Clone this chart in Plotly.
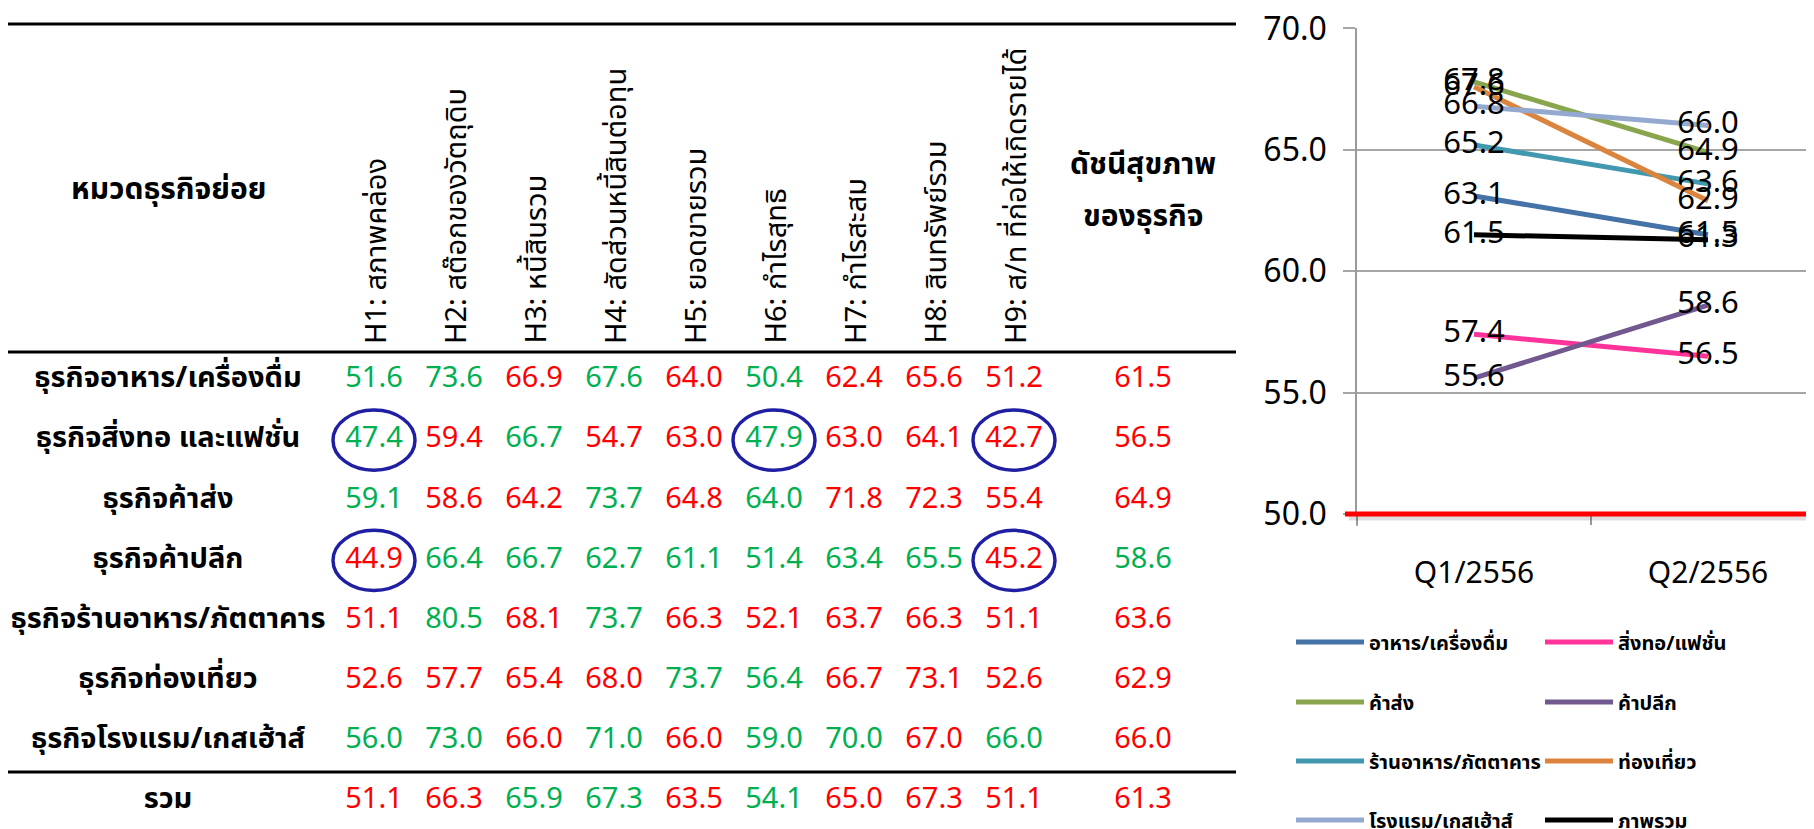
import plotly.graph_objects as go

# ---------------- data ----------------
sectors = ["ธุรกิจอาหาร/เครื่องดื่ม", "ธุรกิจสิ่งทอ และแฟชั่น", "ธุรกิจค้าส่ง", "ธุรกิจค้าปลีก",
           "ธุรกิจร้านอาหาร/ภัตตาคาร", "ธุรกิจท่องเที่ยว", "ธุรกิจโรงแรม/เกสเฮ้าส์", "รวม"]
indicators = ["H1: สภาพคล่อง", "H2: สต๊อกของวัตถุดิบ", "H3: หนี้สินรวม", "H4: สัดส่วนหนี้สินต่อทุน",
              "H5: ยอดขายรวม", "H6: กำไรสุทธิ", "H7: กำไรสะสม", "H8: สินทรัพย์รวม",
              "H9: ส/ท ที่ก่อให้เกิดรายได้"]

h1 = [51.6, 47.4, 59.1, 44.9, 51.1, 52.6, 56.0, 51.1]
h2 = [73.6, 59.4, 58.6, 66.4, 80.5, 57.7, 73.0, 66.3]
h3 = [66.9, 66.7, 64.2, 66.7, 68.1, 65.4, 66.0, 65.9]
h4 = [67.6, 54.7, 73.7, 62.7, 73.7, 68.0, 71.0, 67.3]
h5 = [64.0, 63.0, 64.8, 61.1, 66.3, 73.7, 66.0, 63.5]
h6 = [50.4, 47.9, 64.0, 51.4, 52.1, 56.4, 59.0, 54.1]
h7 = [62.4, 63.0, 71.8, 63.4, 63.7, 66.7, 70.0, 65.0]
h8 = [65.6, 64.1, 72.3, 65.5, 66.3, 73.1, 67.0, 67.3]
h9 = [51.2, 42.7, 55.4, 45.2, 51.1, 52.6, 66.0, 51.1]
health_index = [61.5, 56.5, 64.9, 58.6, 63.6, 62.9, 66.0, 61.3]

# 1 = better than last quarter (green), 0 = worse (red)
h1_up = [1, 1, 1, 0, 0, 0, 1, 0]
h2_up = [1, 0, 0, 1, 1, 0, 1, 0]
h3_up = [0, 1, 0, 1, 0, 0, 0, 1]
h4_up = [1, 0, 1, 1, 1, 0, 1, 1]
h5_up = [0, 0, 0, 1, 0, 1, 0, 0]
h6_up = [1, 1, 1, 1, 0, 1, 1, 1]
h7_up = [0, 0, 0, 1, 0, 0, 1, 0]
h8_up = [0, 0, 0, 1, 0, 0, 0, 0]
h9_up = [0, 0, 0, 0, 0, 0, 1, 0]
index_up = [0, 0, 0, 1, 0, 0, 0, 0]

quarters = ["Q1/2556", "Q2/2556"]
series_names = ["อาหาร/เครื่องดื่ม", "สิ่งทอ/แฟชั่น", "ค้าส่ง", "ค้าปลีก",
                "ร้านอาหาร/ภัตตาคาร", "ท่องเที่ยว", "โรงแรม/เกสเฮ้าส์", "ภาพรวม"]
q1_scores = [63.1, 57.4, 67.8, 55.6, 65.2, 67.6, 66.8, 61.5]
q2_scores = health_index

threshold = 50.0      # health-index critical line
ring_below = 50.0     # table scores under this are ringed

# ---------------- layout constants ----------------
OFF = 8                       # page body margin: the figure starts 8px in from the window corner
W, H = 1814 - OFF, 829 - OFF
FONT = "Noto Sans, Noto Sans Thai, sans-serif"
GREEN, RED, RING = "#00B050", "#FF0000", "#1F1FA3"
series_colors = ["#4572A7", "#FF3399", "#89A54E", "#71588F",
                 "#4198AF", "#DB843D", "#93A9CF", "#000000"]

# positions below are window pixels
COL_X = [168, 374, 454, 534, 614, 694, 774, 854, 934, 1014, 1143]   # table column centres
ROW0, ROW_H = 380, 60.14                                             # first row centre, row pitch

score_cols = [h1, h2, h3, h4, h5, h6, h7, h8, h9, health_index]
up_cols = [h1_up, h2_up, h3_up, h4_up, h5_up, h6_up, h7_up, h8_up, h9_up, index_up]


def row_pos(py):
    # window pixel y -> category position on the table axis
    return (py - ROW0) / ROW_H


def px_x(px):
    return (px - OFF) / W


def px_y(py):
    return 1 - (py - OFF) / H


Y_RANGE = [50, 70.02]
Y_DOM = [px_y(514), px_y(28)]


def y_to_paper(v):
    return Y_DOM[0] + (v - Y_RANGE[0]) / (Y_RANGE[1] - Y_RANGE[0]) * (Y_DOM[1] - Y_DOM[0])


fig = go.Figure()

# ---- table (x2 / y2) ----
fig.add_trace(go.Scatter(
    x=[COL_X[0]] * len(sectors), y=sectors, mode="text", text=sectors,
    textfont=dict(family=FONT, size=29, color="black", weight="bold"),
    xaxis="x2", yaxis="y2", showlegend=False, hoverinfo="skip"))

for j, (vals, ups) in enumerate(zip(score_cols, up_cols)):
    fig.add_trace(go.Scatter(
        x=[COL_X[j + 1]] * len(vals), y=sectors, mode="text",
        text=[f"{v:.1f}" for v in vals],
        textfont=dict(family=FONT, size=29, color=[GREEN if u else RED for u in ups]),
        xaxis="x2", yaxis="y2", showlegend=False, hoverinfo="skip"))

shapes = []
# rings around sub-50 scores
for j, vals in enumerate(score_cols[:9]):
    for i, v in enumerate(vals):
        if v < ring_below:
            cx = COL_X[j + 1]
            shapes.append(dict(type="circle", xref="x2", yref="y2",
                               x0=cx - 41, x1=cx + 41, y0=i - 0.5, y1=i + 0.5,
                               line=dict(color=RING, width=3.5)))

# table rules
for py in [24, 352, 772]:
    shapes.append(dict(type="line", xref="x2", yref="y2", x0=8, x1=1236,
                       y0=row_pos(py), y1=row_pos(py), line=dict(color="black", width=3)))

annotations = []
for j, lab in enumerate(indicators):
    annotations.append(dict(x=COL_X[j + 1], y=row_pos(346), xref="x2", yref="y2",
                            text=lab, textangle=-90, showarrow=False,
                            xanchor="center", yanchor="bottom",
                            font=dict(family=FONT, size=29, color="black")))
annotations.append(dict(x=COL_X[0], y=row_pos(187), xref="x2", yref="y2", text="หมวดธุรกิจย่อย",
                        showarrow=False, font=dict(family=FONT, size=30, color="black", weight="bold")))
annotations.append(dict(x=COL_X[-1], y=row_pos(162), xref="x2", yref="y2", text="ดัชนีสุขภาพ",
                        showarrow=False, font=dict(family=FONT, size=30, color="black", weight="bold")))
annotations.append(dict(x=COL_X[-1], y=row_pos(214), xref="x2", yref="y2", text="ของธุรกิจ",
                        showarrow=False, font=dict(family=FONT, size=30, color="black", weight="bold")))

# ---- line chart (x / y) ----
legend_keys = ["legend", "legend2", "legend3", "legend4"]
for k, name in enumerate(series_names):
    fig.add_trace(go.Scatter(
        x=quarters, y=[q1_scores[k], q2_scores[k]], name=name,
        mode="lines+text", text=[f"{q1_scores[k]:.1f}", f"{q2_scores[k]:.1f}"],
        textposition="middle center",
        textfont=dict(family=FONT, size=31, color="black"),
        line=dict(color=series_colors[k], width=5),
        legend=legend_keys[k // 2]))

# y-axis line runs a little past the bottom of the plot
shapes.append(dict(type="line", xref="paper", yref="paper", x0=px_x(1357), x1=px_x(1357),
                   y0=y_to_paper(threshold), y1=y_to_paper(threshold) - 12 / H,
                   line=dict(color="#9A9A9A", width=1.5)))
# critical line (red) with a soft shadow
ty = y_to_paper(threshold)
shapes.append(dict(type="line", xref="paper", yref="paper", x0=px_x(1349), x1=1,
                   y0=ty - 4 / H, y1=ty - 4 / H, line=dict(color="rgba(0,0,0,0.13)", width=5)))
shapes.append(dict(type="line", xref="paper", yref="paper", x0=px_x(1345), x1=1,
                   y0=ty, y1=ty, line=dict(color=RED, width=5)))

fig.update_layout(
    width=W, height=H, margin=dict(l=0, r=0, t=0, b=0, autoexpand=False),
    paper_bgcolor="white", plot_bgcolor="rgba(0,0,0,0)",
    font=dict(family=FONT, color="black"),
    shapes=shapes, annotations=annotations,
    xaxis=dict(domain=[px_x(1357), 1], range=[-0.5, 1.453], type="category",
               showgrid=False, showline=False, zeroline=False,
               ticks="outside", tickson="boundaries", ticklen=10, tickcolor="#9A9A9A", tickwidth=1.5,
               tickfont=dict(family=FONT, size=30, color="black"), ticklabelstandoff=38),
    yaxis=dict(domain=Y_DOM, range=Y_RANGE, tick0=50, dtick=5, tickformat=".1f",
               showgrid=True, gridcolor="#A6A6A6", gridwidth=1.5, zeroline=False,
               showline=True, linecolor="#9A9A9A", linewidth=1.5,
               ticks="outside", ticklen=12, tickcolor="#A6A6A6", tickwidth=1.5,
               ticklabeloverflow="allow",
               tickfont=dict(family=FONT, size=32, color="black"), ticklabelstandoff=10),
    xaxis2=dict(domain=[0, 1], range=[OFF, OFF + W], visible=False, fixedrange=True),
    yaxis2=dict(domain=[0, 1], range=[row_pos(OFF + H), row_pos(OFF)], type="category",
                categoryorder="array", categoryarray=sectors, visible=False),
)

leg_rows_y = [642, 702, 761, 820]
for r, key in enumerate(legend_keys):
    fig.update_layout({key: dict(orientation="h", x=px_x(1291), y=px_y(leg_rows_y[r]),
                                 xanchor="left", yanchor="middle", entrywidth=166, itemwidth=68,
                                 bgcolor="rgba(0,0,0,0)", font=dict(family=FONT, size=20, weight="bold"))})

fig.write_html("out.html")
